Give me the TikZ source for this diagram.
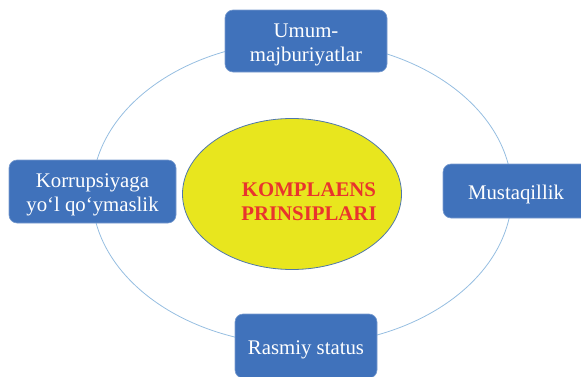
\documentclass[tikz,border=0pt]{standalone}
\usepackage{fontspec}
\setmainfont{Liberation Serif}
\usetikzlibrary{shapes.geometric}
\definecolor{boxblue}{RGB}{64,114,187}
\definecolor{ringblue}{RGB}{150,190,225}
\definecolor{ellyellow}{RGB}{232,230,30}
\definecolor{ellborder}{RGB}{80,120,170}
\definecolor{titlered}{RGB}{232,52,45}
\tikzset{
  pbox/.style={rectangle, rounded corners=8pt, fill=boxblue, draw=boxblue!70!white, line width=0.6pt, inner sep=0pt},
  ptext/.style={text=white, font=\fontsize{20.8}{24}\selectfont, align=center, inner sep=0pt, yshift=-3.5pt},
  ring/.style={draw=ringblue, line width=0.8pt},
}
\begin{document}
\begin{tikzpicture}[x=1pt,y=1pt]
\useasboundingbox (0,0) rectangle (581,376);
% ring
\draw[ring] (302,183) ellipse [x radius=210, y radius=152];
% central ellipse
\node[ellipse, fill=ellyellow, draw=ellborder, line width=0.8pt, minimum width=219pt, minimum height=151pt,
  inner sep=0pt] (c) at (292,182) {};
\node[align=center, text=titlered, font=\fontsize{20.8}{24}\selectfont\bfseries, inner sep=0pt] (ct) at (309,174) {KOMPLAENS\\PRINSIPLARI};
% boxes
\node[pbox, minimum width=162pt, minimum height=62pt] (top) at (306,335) {};
\node[ptext] (topt) at (top) {Umum-\\majburiyatlar};
\node[pbox, minimum width=167pt, minimum height=63pt] (left) at (92.5,184.5) {};
\node[ptext] (leftt) at (left) {Korrupsiyaga\\yo‘l qo‘ymaslik};
\node[pbox, minimum width=146pt, minimum height=54pt] (right) at (516,185) {};
\node[ptext] (rightt) at (right) {Mustaqillik};
\node[pbox, minimum width=142pt, minimum height=64pt] (bottom) at (306,30) {};
\node[ptext] (bottomt) at (bottom) {Rasmiy status};
\end{tikzpicture}
\end{document}
